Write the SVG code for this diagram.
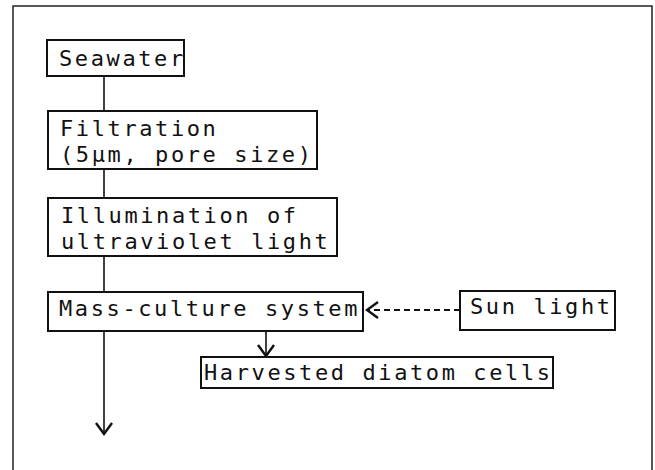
<svg xmlns="http://www.w3.org/2000/svg" width="655" height="470" viewBox="0 0 655 470">
  <style>
    .box { fill: #fff; stroke: #111; stroke-width: 2; }
    .lbl { font-family: "DejaVu Sans Mono", "Liberation Mono", monospace; font-size: 22px; letter-spacing: 2.6px; fill: #111; }
    .conn { fill: none; stroke: #111; stroke-width: 1.6; }
    .dash { stroke-dasharray: 6 4; stroke-width: 1.8; }
    .frame { fill: none; stroke: #222; stroke-width: 1.5; }
  </style>
  <defs>
    <marker id="arr" viewBox="-13 -10 15 20" refX="0" refY="0" markerWidth="15" markerHeight="20" markerUnits="userSpaceOnUse" orient="auto">
      <path d="M-11,-8 L0,0 L-11,8" fill="none" stroke="#111" stroke-width="2.4"/>
    </marker>
  </defs>
  <rect width="655" height="470" fill="#fff"/>
  <path class="frame" d="M13,470 V6 H652 V470"/>

  <g id="connectors">
    <line class="conn" x1="104" y1="76" x2="104" y2="111"/>
    <line class="conn" x1="104" y1="169" x2="104" y2="198"/>
    <line class="conn" x1="104" y1="256" x2="104" y2="292"/>
    <line class="conn" x1="104" y1="331" x2="104" y2="434" marker-end="url(#arr)"/>
    <line class="conn" x1="266" y1="331" x2="266" y2="356" marker-end="url(#arr)"/>
    <line class="conn dash" x1="460" y1="310" x2="367" y2="310" marker-end="url(#arr)"/>
  </g>

  <g id="seawater">
    <rect class="box" x="47" y="40" width="137" height="36"/>
    <text class="lbl" x="59" y="66">Seawater</text>
  </g>
  <g id="filtration">
    <rect class="box" x="48" y="111" width="269" height="58"/>
    <text class="lbl" x="60" y="136">Filtration</text>
    <text class="lbl" x="60" y="162">(5µm, pore size)</text>
  </g>
  <g id="illumination">
    <rect class="box" x="48" y="198" width="289" height="58"/>
    <text class="lbl" x="61" y="223">Illumination of</text>
    <text class="lbl" x="61" y="249">ultraviolet light</text>
  </g>
  <g id="mass-culture">
    <rect class="box" x="48" y="292" width="315" height="39"/>
    <text class="lbl" x="59" y="316">Mass-culture system</text>
  </g>
  <g id="sun-light">
    <rect class="box" x="460" y="291" width="155" height="39"/>
    <text class="lbl" x="470" y="314">Sun light</text>
  </g>
  <g id="harvested">
    <rect class="box" x="201" y="357" width="352" height="31"/>
    <text class="lbl" x="204" y="380">Harvested diatom cells</text>
  </g>
</svg>
